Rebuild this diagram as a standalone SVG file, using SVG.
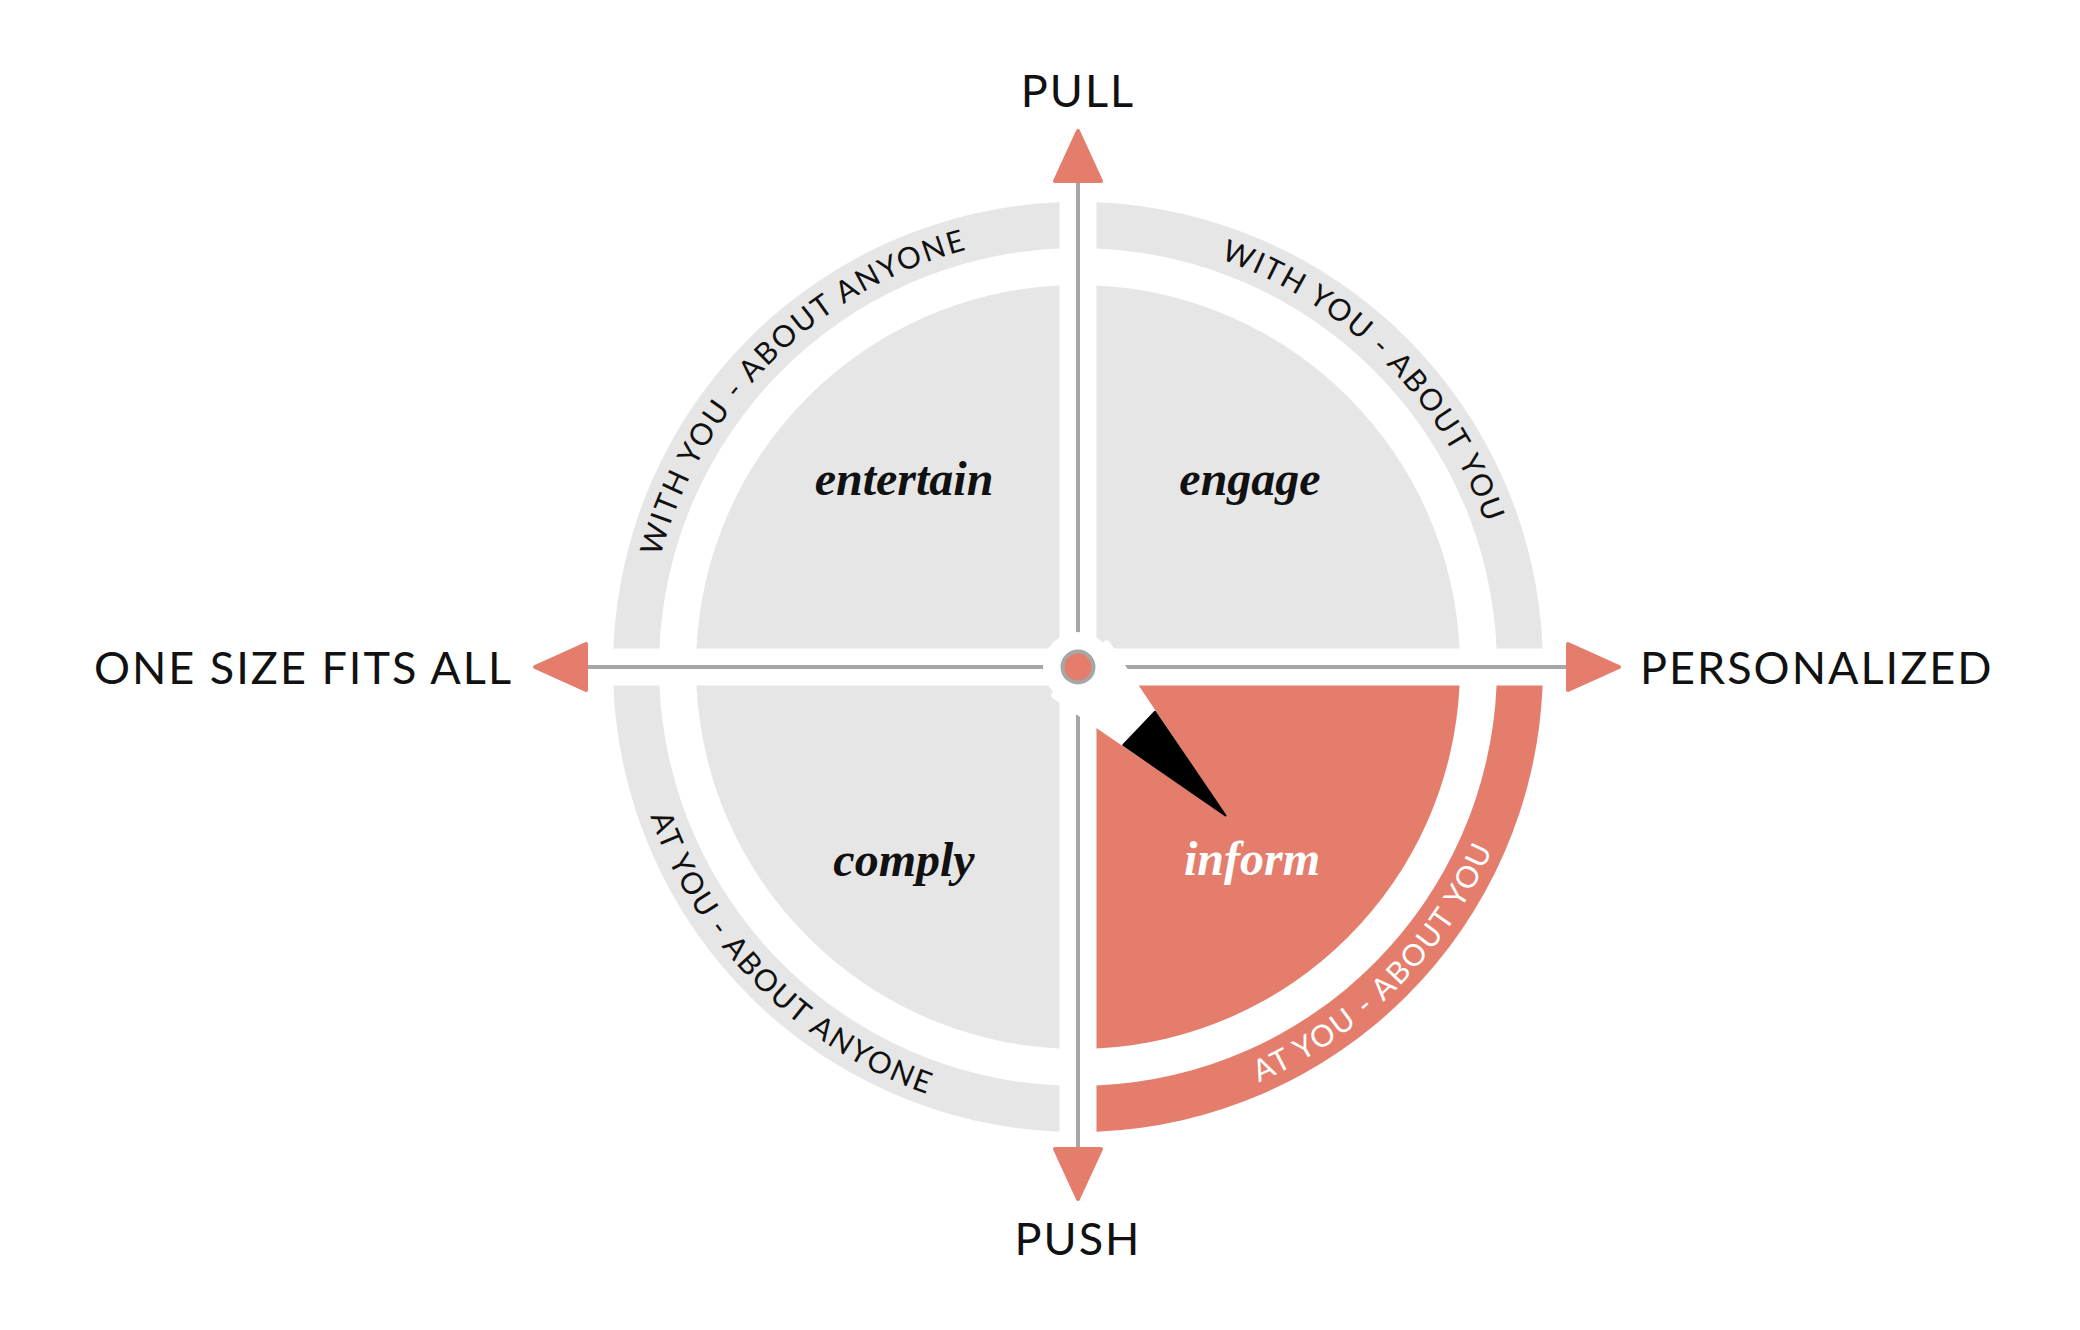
<svg xmlns="http://www.w3.org/2000/svg" width="2080" height="1330" viewBox="0 0 2080 1330">
<style>
.gray{fill:#e6e6e6}
.sal{fill:#e47d6b}
.axis{stroke:#a6a6a6;stroke-width:4;fill:none}
.arrow{fill:#e47d6b;stroke:#e47d6b;stroke-width:4;stroke-linejoin:round}
.lbl{font-family:Lato,"Noto Sans",sans-serif;font-size:45px;letter-spacing:2px;fill:#111}
.ring{font-family:Lato,"Noto Sans",sans-serif;font-size:30px;letter-spacing:2px;fill:#111}
.q{font-family:"Liberation Serif",serif;font-style:italic;font-weight:bold;font-size:48px;fill:#111;text-anchor:middle}
</style>
<defs>
<path id="pTL" d="M 646 667 A 432 432 0 0 1 1078 235"/>
<path id="pTR" d="M 1078 235 A 432 432 0 0 1 1510 667"/>
<path id="pBL" d="M 625 667 A 453 453 0 0 0 1078 1120"/>
<path id="pBR" d="M 1078 1120 A 453 453 0 0 0 1531 667"/>
</defs>
<rect width="2080" height="1330" fill="#fff"/>

<g id="entertain">
<path class="gray" d="M 1059.5 648.5 L 1059.5 285.45 A 382 382 0 0 0 696.45 648.5 Z"/>
<text class="q" x="904" y="495">entertain</text>
</g>
<g id="engage">
<path class="gray" d="M 1096.5 648.5 L 1096.5 285.45 A 382 382 0 0 1 1459.55 648.5 Z"/>
<text class="q" x="1250" y="495">engage</text>
</g>
<g id="comply">
<path class="gray" d="M 1059.5 685.5 L 1059.5 1048.55 A 382 382 0 0 1 696.45 685.5 Z"/>
<text class="q" x="904" y="876">comply</text>
</g>
<g id="inform">
<path class="sal" d="M 1096.5 685.5 L 1096.5 1048.55 A 382 382 0 0 0 1459.55 685.5 Z"/>
</g>

<g id="ring-with-you-about-anyone">
<path class="gray" d="M 1059.5 202.37 A 465 465 0 0 0 613.37 648.5 L 659.41 648.5 A 419 419 0 0 1 1059.5 248.41 Z"/>
<text class="ring"><textPath href="#pTL" startOffset="50%" text-anchor="middle">WITH YOU - ABOUT ANYONE</textPath></text>
</g>
<g id="ring-with-you-about-you">
<path class="gray" d="M 1096.5 202.37 A 465 465 0 0 1 1542.63 648.5 L 1496.59 648.5 A 419 419 0 0 0 1096.5 248.41 Z"/>
<text class="ring"><textPath href="#pTR" startOffset="50%" text-anchor="middle">WITH YOU - ABOUT YOU</textPath></text>
</g>
<g id="ring-at-you-about-anyone">
<path class="gray" d="M 1059.5 1131.63 A 465 465 0 0 1 613.37 685.5 L 659.41 685.5 A 419 419 0 0 0 1059.5 1085.59 Z"/>
<text class="ring"><textPath href="#pBL" startOffset="50%" text-anchor="middle">AT YOU - ABOUT ANYONE</textPath></text>
</g>
<g id="ring-at-you-about-you">
<path class="sal" d="M 1096.5 1131.63 A 465 465 0 0 0 1542.63 685.5 L 1496.59 685.5 A 419 419 0 0 1 1096.5 1085.59 Z"/>
<text class="ring" style="fill:#fff"><textPath href="#pBR" startOffset="50%" text-anchor="middle">AT YOU - ABOUT YOU</textPath></text>
</g>

<g id="connectors">
<line class="axis" x1="1078" y1="182" x2="1078" y2="1148"/>
<line class="axis" x1="587" y1="667" x2="1568" y2="667"/>
<polygon class="arrow" points="1078,131 1055,181 1101,181"/>
<polygon class="arrow" points="1078,1199 1055,1149 1101,1149"/>
<polygon class="arrow" points="535,667 586,644 586,690"/>
<polygon class="arrow" points="1619,667 1568,644 1568,690"/>
</g>

<g id="pull"><text class="lbl" x="1078" y="107" text-anchor="middle">PULL</text></g>
<g id="push"><text class="lbl" x="1078" y="1255" text-anchor="middle">PUSH</text></g>
<g id="one-size-fits-all"><text class="lbl" x="513" y="684" text-anchor="end">ONE SIZE FITS ALL</text></g>
<g id="personalized"><text class="lbl" x="1640" y="684">PERSONALIZED</text></g>

<g id="needle">
<polygon fill="#fff" stroke="#fff" stroke-width="8" stroke-linejoin="round" points="1055.2,695.3 1106.4,644.4 1211.9,801.8"/>
<circle cx="1078" cy="667" r="35" fill="#fff"/>
<circle cx="1078" cy="667" r="15.5" fill="#e47d6b" stroke="#a6a6a6" stroke-width="4"/>
<polygon fill="#000" stroke="#000" stroke-width="2" stroke-linejoin="round" points="1123.3,745 1155,711.7 1225.5,815.5"/>
</g>
<text x="1252" y="875" class="q" style="fill:#fff">inform</text>
</svg>
